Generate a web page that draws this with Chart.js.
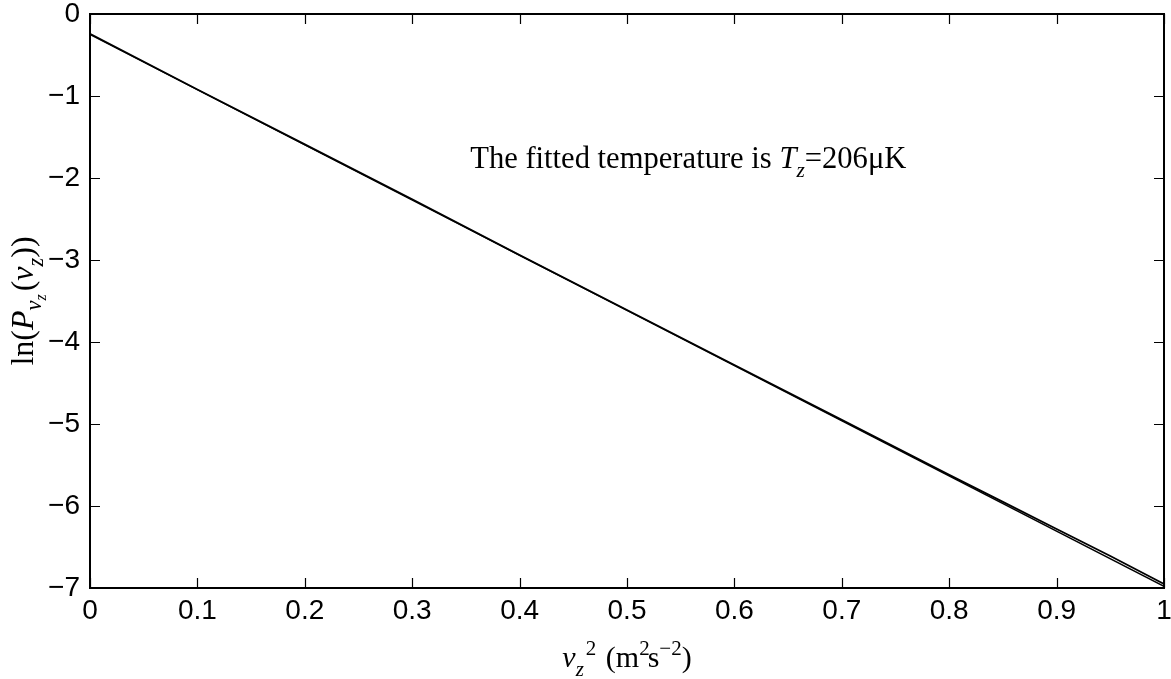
<!DOCTYPE html>
<html>
<head>
<meta charset="utf-8">
<script src="https://cdn.jsdelivr.net/npm/chart.js@4/dist/chart.umd.min.js"></script>
<style>
  html, body { margin: 0; padding: 0; background: #fff; }
  #wrap { width: 1171px; height: 679px; }
</style>
</head>
<body>
<div id="wrap"><canvas id="myChart"></canvas></div>
<script>
// measured log-probability vs v_z^2
const vz2 = [0, 0.1, 0.2, 0.3, 0.4, 0.5, 0.6, 0.7, 0.8, 0.85, 0.9, 0.95, 1.0];
const lnP = [-0.24, -0.92, -1.59, -2.26, -2.94, -3.61, -4.28, -4.95, -5.62, -5.95, -6.28, -6.61, -6.95];

// straight-line fit
const fitX = [0, 1];
const fitY = [-0.25, -6.98];

const xTicks = [0, 0.1, 0.2, 0.3, 0.4, 0.5, 0.6, 0.7, 0.8, 0.9, 1];
const yTicks = [0, -1, -2, -3, -4, -5, -6, -7];

const serif = '"Liberation Serif", "Times New Roman", serif';
const sans = '"Liberation Sans", Arial, sans-serif';

function toPoints(xs, ys) {
  return xs.map((x, i) => ({ x: x, y: ys[i] }));
}

// draw text made of pieces (italic, sub/superscript)
function richWidth(ctx, segs, size) {
  let w = 0;
  segs.forEach(s => {
    const fs = size * (s.scale || 1);
    ctx.font = (s.italic ? 'italic ' : '') + fs + 'px ' + serif;
    w += ctx.measureText(s.t).width + (s.gap || 0);
  });
  return w;
}

function drawRich(ctx, segs, x, y, size) {
  let cx = x;
  segs.forEach(s => {
    const fs = size * (s.scale || 1);
    ctx.font = (s.italic ? 'italic ' : '') + fs + 'px ' + serif;
    ctx.fillText(s.t, cx + (s.dx || 0), y + (s.dy || 0) * size);
    cx += ctx.measureText(s.t).width + (s.gap || 0);
  });
}

const xTitle = [
  { t: 'v', italic: true },
  { t: 'z', italic: true, scale: 0.7, dy: 0.3 },
  { t: '2', scale: 0.7, dy: -0.4, dx: 2, gap: 4 },
  { t: ' (m', gap: 0 },
  { t: '2', scale: 0.7, dy: -0.4, gap: -2 },
  { t: 's' },
  { t: '\u22122', scale: 0.7, dy: -0.4 },
  { t: ')' }
];

const yTitle = [
  { t: 'ln(' },
  { t: 'P', italic: true },
  { t: 'v', italic: true, scale: 0.7, dy: 0.25 },
  { t: 'z', italic: true, scale: 0.5, dy: 0.4, gap: 3 },
  { t: '(' },
  { t: 'v', italic: true },
  { t: 'z', italic: true, scale: 0.7, dy: 0.3 },
  { t: '))' }
];

const note = [
  { t: 'The fitted temperature is ' },
  { t: 'T', italic: true },
  { t: 'z', italic: true, scale: 0.7, dy: 0.3 },
  { t: '=206\u03bcK' }
];

const framePlugin = {
  id: 'frame',
  afterDraw(chart) {
    const ctx = chart.ctx;
    const a = chart.chartArea;
    const xs = chart.scales.x, ys = chart.scales.y;
    ctx.save();
    ctx.strokeStyle = '#000';
    ctx.lineWidth = 2;
    ctx.strokeRect(a.left, a.top, a.right - a.left, a.bottom - a.top);
    ctx.lineWidth = 1.2;
    ctx.beginPath();
    xTicks.forEach(v => {
      const px = Math.round(xs.getPixelForValue(v)) + 0.5;
      ctx.moveTo(px, a.bottom); ctx.lineTo(px, a.bottom - 10);
      ctx.moveTo(px, a.top); ctx.lineTo(px, a.top + 10);
    });
    yTicks.forEach(v => {
      const py = Math.round(ys.getPixelForValue(v)) + 0.5;
      ctx.moveTo(a.left, py); ctx.lineTo(a.left + 10, py);
      ctx.moveTo(a.right, py); ctx.lineTo(a.right - 10, py);
    });
    ctx.stroke();

    ctx.fillStyle = '#000';
    ctx.textBaseline = 'alphabetic';
    // x axis title
    const xs1 = 30;
    const wx = richWidth(ctx, xTitle, xs1);
    drawRich(ctx, xTitle, (a.left + a.right) / 2 - wx / 2, 667, xs1);
    // y axis title, rotated
    const ys1 = 32;
    const wy = richWidth(ctx, yTitle, ys1);
    ctx.save();
    ctx.translate(33, (a.top + a.bottom) / 2);
    ctx.rotate(-Math.PI / 2);
    drawRich(ctx, yTitle, -wy / 2, 0, ys1);
    ctx.restore();
    // annotation
    drawRich(ctx, note, xs.getPixelForValue(0.354), 168, 30.6);
    ctx.restore();
  }
};

function noScalePadding(scale) {
  scale.paddingTop = 0;
  scale.paddingBottom = 0;
  scale.paddingLeft = 0;
  scale.paddingRight = 0;
}

const data = {
  datasets: [
    {
      // measured data
      data: toPoints(vz2, lnP),
      borderColor: '#000',
      borderWidth: 1.8,
      pointRadius: 0,
      showLine: true,
      tension: 0
    },
    {
      // linear fit
      data: toPoints(fitX, fitY),
      borderColor: '#000',
      borderWidth: 1.4,
      pointRadius: 0,
      showLine: true
    }
  ]
};

const config = {
  type: 'scatter',
  data: data,
  options: {
    responsive: false,
    animation: false,
    events: [],
    layout: {
      autoPadding: false,
      padding: { left: 0, top: 14, right: 7, bottom: 0 }
    },
    plugins: {
      legend: { display: false },
      tooltip: { enabled: false }
    },
    scales: {
      x: {
        type: 'linear',
        min: 0,
        max: 1,
        afterFit(scale) { scale.height = 91; noScalePadding(scale); },
        afterBuildTicks(scale) { scale.ticks = xTicks.map(v => ({ value: v })); },
        grid: { display: false, drawTicks: false },
        border: { display: false },
        ticks: {
          padding: 6,
          color: '#000',
          font: { family: sans, size: 28 },
          maxRotation: 0,
          autoSkip: false,
          callback: v => String(Math.round(v * 10) / 10)
        }
      },
      y: {
        type: 'linear',
        min: -7,
        max: 0,
        afterFit(scale) { scale.width = 90; noScalePadding(scale); },
        afterBuildTicks(scale) { scale.ticks = yTicks.map(v => ({ value: v })); },
        grid: { display: false, drawTicks: false },
        border: { display: false },
        ticks: {
          padding: 10,
          color: '#000',
          font: { family: sans, size: 28 },
          autoSkip: false,
          callback: v => (v < 0 ? '\u2212' + Math.abs(v) : String(v))
        }
      }
    }
  },
  plugins: [framePlugin]
};

const canvas = document.getElementById('myChart');
canvas.width = 1171;
canvas.height = 679;
const myChart = new Chart(canvas, config);
</script>
</body>
</html>
